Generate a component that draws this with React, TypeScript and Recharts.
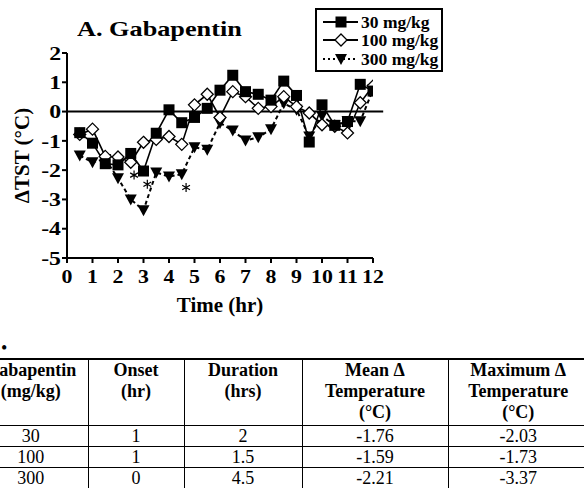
import React from "react";
import {
  ComposedChart,
  Line,
  Scatter,
  XAxis,
  YAxis,
  ReferenceLine,
  Legend,
} from "recharts";

const FONT = '"Liberation Serif", "Times New Roman", serif';

const HOURS = [0.5, 1, 1.5, 2, 2.5, 3, 3.5, 4, 4.5, 5, 5.5, 6, 6.5, 7, 7.5, 8, 8.5, 9, 9.5, 10, 10.5, 11, 11.5, 12];
const DOSE_30 = [-0.72, -1.08, -1.78, -1.82, -1.43, -2.03, -0.74, 0.06, -0.38, -0.2, 0.11, 0.73, 1.24, 0.68, 0.59, 0.39, 1.04, 0.55, -1.04, 0.23, -0.47, -0.34, 0.93, 0.7];
const DOSE_100 = [-0.78, -0.6, -1.53, -1.55, -1.73, -1.05, -0.95, -0.85, -1.12, 0.23, 0.59, -0.2, 0.68, 0.51, 0.11, 0.17, 0.51, 0.17, -0.05, -0.45, -0.5, -0.73, 0.3, 0.87];
const DOSE_300 = [-1.5, -1.73, -1.62, -2.28, -3.0, -3.37, -2.08, -2.22, -2.14, -1.22, -1.3, -0.39, -0.65, -0.99, -0.88, -0.6, 0.28, 0.06, -0.85, -0.15, -0.47, -0.33, -0.33, 0.75];

// significance asterisks
const STAR_HOURS = [2.63, 3.15, 4.67];
const STAR_VALUES = [-2.17, -2.48, -2.59];

const X_TICKS = [0, 1, 2, 3, 4, 5, 6, 7, 8, 9, 10, 11, 12];
const Y_TICKS = [-5, -4, -3, -2, -1, 0, 1, 2];

const SERIES_KEYS = ["d30", "d100", "d300"];
const SERIES_NAMES = ["30 mg/kg", "100 mg/kg", "300 mg/kg"];

const TABLE_HEAD = [
  ["Gabapentin", "(mg/kg)"],
  ["Onset", "(hr)"],
  ["Duration", "(hrs)"],
  ["Mean \u0394", "Temperature", "(\u00b0C)"],
  ["Maximum \u0394", "Temperature", "(\u00b0C)"],
];
const TABLE_DOSE = ["30", "100", "300"];
const TABLE_ONSET = ["1", "1", "0"];
const TABLE_DURATION = ["2", "1.5", "4.5"];
const TABLE_MEAN = ["-1.76", "-1.59", "-2.21"];
const TABLE_MAX = ["-2.03", "-1.73", "-3.37"];
const COL_WIDTHS = [114, 96, 118, 146, 140];

const chartData = HOURS.map((hr, i) => ({
  hr,
  d30: DOSE_30[i],
  d100: DOSE_100[i],
  d300: DOSE_300[i],
}));
const starData = STAR_HOURS.map((hr, i) => ({ hr, v: STAR_VALUES[i] }));

function Marker({ kind, cx, cy }: { kind: string; cx: number; cy: number }) {
  if (kind === "d30") {
    return <rect x={cx - 5.5} y={cy - 5.5} width={11} height={11} fill="#000" />;
  }
  if (kind === "d100") {
    return (
      <path
        d={`M${cx},${cy - 6} L${cx + 6},${cy} L${cx},${cy + 6} L${cx - 6},${cy} Z`}
        fill="#fff"
        stroke="#000"
        strokeWidth={1.3}
      />
    );
  }
  return <path d={`M${cx - 6},${cy - 5} L${cx + 6},${cy - 5} L${cx},${cy + 6} Z`} fill="#000" />;
}

const dotFor = (kind: string) => (p: any) => {
  if (p.cx == null || p.cy == null) return <g key={`${kind}-${p.index}`} />;
  return (
    <g key={`${kind}-${p.index}`}>
      <Marker kind={kind} cx={p.cx} cy={p.cy} />
    </g>
  );
};

const XTick = (props: any) => {
  const { x, y, payload } = props;
  return (
    <g transform={`translate(${x},${y})`}>
      <text textAnchor="middle" dy="0.71em" transform="scale(1.15,1)" fontSize={19} fontWeight="bold" fontFamily={FONT} fill="#000">
        {payload.value}
      </text>
    </g>
  );
};

const YTick = (props: any) => {
  const { x, y, payload } = props;
  return (
    <g transform={`translate(${x},${y})`}>
      <text textAnchor="end" dy="0.355em" transform="scale(1.25,1)" fontSize={19} fontWeight="bold" fontFamily={FONT} fill="#000">
        {payload.value}
      </text>
    </g>
  );
};

// six-armed asterisk drawn as strokes
const StarShape = (p: any) => {
  const { cx, cy } = p;
  const r = 4.5;
  const arms = [90, 30, 150].map((deg) => {
    const a = (deg * Math.PI) / 180;
    const dx = r * Math.cos(a);
    const dy = r * Math.sin(a);
    return `M${cx - dx},${cy - dy} L${cx + dx},${cy + dy}`;
  });
  return <path d={arms.join(" ")} stroke="#000" strokeWidth={1.2} fill="none" />;
};

function LegendBox() {
  return (
    <div
      style={{
        width: 128,
        height: 64,
        boxSizing: "border-box",
        border: "2px solid #000",
        background: "#fff",
        paddingTop: 3,
      }}
    >
      {SERIES_KEYS.map((k, i) => (
        <div key={k} style={{ display: "flex", alignItems: "center", height: 18.3 }}>
          <svg width={44} height={18} style={{ flex: "none" }}>
            <line
              x1={6}
              x2={41}
              y1={9}
              y2={9}
              stroke="#000"
              strokeWidth={2}
              strokeDasharray={k === "d300" ? "2 3" : undefined}
            />
            <Marker kind={k} cx={24} cy={9} />
          </svg>
          <span style={{ fontFamily: FONT, fontWeight: "bold", fontSize: 17.5, lineHeight: "18px", color: "#000" }}>
            {SERIES_NAMES[i]}
          </span>
        </div>
      ))}
    </div>
  );
}

function DataTable() {
  const rows = TABLE_DOSE.map((d, i) => [d, TABLE_ONSET[i], TABLE_DURATION[i], TABLE_MEAN[i], TABLE_MAX[i]]);
  return (
    <table
      style={{
        position: "absolute",
        left: -26,
        top: 358,
        width: COL_WIDTHS.reduce((a, b) => a + b, 0),
        tableLayout: "fixed",
        borderCollapse: "collapse",
        fontFamily: FONT,
        fontSize: 18,
        color: "#000",
      }}
    >
      <colgroup>
        {COL_WIDTHS.map((w, i) => (
          <col key={i} style={{ width: w }} />
        ))}
      </colgroup>
      <thead>
        <tr>
          {TABLE_HEAD.map((lines, i) => (
            <th
              key={i}
              style={{
                borderTop: "2px solid #000",
                borderBottom: "1.5px solid #000",
                borderLeft: i === 0 ? "none" : "1.5px solid #000",
                padding: 0,
                height: 65,
                verticalAlign: "top",
                lineHeight: "21px",
                fontWeight: "bold",
                textAlign: "center",
                whiteSpace: "nowrap",
              }}
            >
              {lines.map((l, j) => (
                <div key={j}>{l}</div>
              ))}
            </th>
          ))}
        </tr>
      </thead>
      <tbody>
        {rows.map((r, i) => (
          <tr key={i}>
            {r.map((c, j) => (
              <td
                key={j}
                style={{
                  borderBottom: "1.5px solid #000",
                  borderLeft: j === 0 ? "none" : "1.5px solid #000",
                  padding: 0,
                  height: 20,
                  lineHeight: "20px",
                  textAlign: "center",
                }}
              >
                {c}
              </td>
            ))}
          </tr>
        ))}
      </tbody>
    </table>
  );
}

export default function App() {
  return (
    <div
      style={{
        position: "absolute",
        left: 0,
        top: 0,
        width: 584,
        height: 488,
        overflow: "hidden",
        background: "#fff",
      }}
    >
      <div
        style={{
          position: "absolute",
          left: 77,
          top: 17,
          fontFamily: FONT,
          fontWeight: "bold",
          fontSize: 21,
          lineHeight: "24px",
          transform: "scaleX(1.25)",
          transformOrigin: "left center",
          whiteSpace: "nowrap",
          color: "#000",
        }}
      >
        A. Gabapentin
      </div>
      <div style={{ position: "absolute", left: 0, top: 0 }}>
        <ComposedChart width={584} height={330} data={chartData} margin={{ top: 53, right: 211, left: 0, bottom: 0 }}>
          <XAxis
            dataKey="hr"
            type="number"
            domain={[0, 12]}
            ticks={X_TICKS}
            interval={0}
            allowDataOverflow
            height={72}
            tickSize={5}
            tickMargin={7}
            tick={<XTick />}
            axisLine={{ stroke: "#000", strokeWidth: 2 }}
            tickLine={{ stroke: "#000", strokeWidth: 2 }}
            label={{
              content: (p: any) => {
                const vb = p.viewBox || { x: 67, width: 306 };
                return (
                  <g transform={`translate(${vb.x + vb.width / 2},312)`}>
                    <text textAnchor="middle" transform="scale(1.05,1)" fontSize={20} fontWeight="bold" fontFamily={FONT} fill="#000">
                      Time (hr)
                    </text>
                  </g>
                );
              },
            }}
          />
          <YAxis
            type="number"
            domain={[-5, 2]}
            ticks={Y_TICKS}
            interval={0}
            width={67}
            tickSize={5}
            tickMargin={1}
            tick={<YTick />}
            axisLine={{ stroke: "#000", strokeWidth: 2 }}
            tickLine={{ stroke: "#000", strokeWidth: 2 }}
            label={{
              content: (p: any) => {
                const vb = p.viewBox || { y: 53, height: 205 };
                return (
                  <text
                    transform={`translate(29,${vb.y + vb.height / 2}) rotate(-90)`}
                    textAnchor="middle"
                    fontSize={21}
                    fontWeight="bold"
                    fontFamily={FONT}
                    fill="#000"
                  >
                    {"\u0394TST (\u00b0C)"}
                  </text>
                );
              },
            }}
          />
          <ReferenceLine
            segment={[
              { x: 0, y: 0 },
              { x: 12.4, y: 0 },
            ]}
            ifOverflow="visible"
            stroke="#000"
            strokeWidth={2}
          />
          <Legend
            layout="horizontal"
            verticalAlign="middle"
            align="center"
            wrapperStyle={{ position: "absolute", left: 315, top: 8, width: 128, height: 64 }}
            content={() => <LegendBox />}
          />
          <Line
            dataKey="d300"
            name={SERIES_NAMES[2]}
            stroke="#000"
            strokeWidth={2}
            strokeDasharray="4 3"
            dot={dotFor("d300")}
            isAnimationActive={false}
          />
          <Line
            dataKey="d100"
            name={SERIES_NAMES[1]}
            stroke="#000"
            strokeWidth={1.6}
            dot={dotFor("d100")}
            isAnimationActive={false}
          />
          <Line
            dataKey="d30"
            name={SERIES_NAMES[0]}
            stroke="#000"
            strokeWidth={1.6}
            dot={dotFor("d30")}
            isAnimationActive={false}
          />
          <Scatter data={starData} dataKey="v" legendType="none" shape={StarShape} isAnimationActive={false} />
        </ComposedChart>
      </div>
      <div style={{ position: "absolute", left: 1, top: 338, fontFamily: FONT, fontSize: 18, color: "#000" }}>•</div>
      <DataTable />
    </div>
  );
}
